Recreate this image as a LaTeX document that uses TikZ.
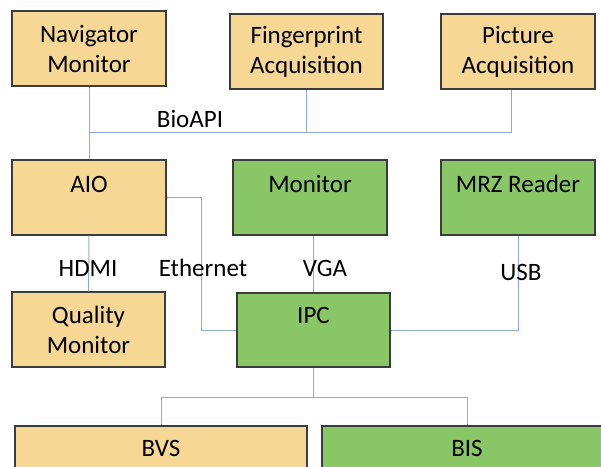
\documentclass[tikz,border=0pt]{standalone}
\usepackage{fontspec}
\setmainfont{Carlito}
\definecolor{boxorange}{HTML}{F6D894}
\definecolor{boxgreen}{HTML}{89C665}
\definecolor{boxline}{HTML}{3C3C3C}
\definecolor{wire}{HTML}{8EAADB}
\tikzset{
  unit/.style={draw=boxline, line width=1.2pt, minimum width=154pt, minimum height=75pt,
    inner sep=0pt, align=center, font=\fontsize{25}{30}\selectfont},
  yel/.style={unit, fill=boxorange},
  grn/.style={unit, fill=boxgreen},
  % single-line caption sitting in the upper part of the box
  toptext/.style={text height=17pt, text depth=#1},
  link/.style={draw=wire, line width=1pt},
  tag/.style={inner sep=0pt, font=\fontsize{25}{30}\selectfont},
}
\begin{document}
\begin{tikzpicture}[x=1pt, y=-1pt]
\useasboundingbox (0,0) rectangle (601,466);
\clip (0,0) rectangle (601,466);

% top row
\node[yel] (nav) at (89,48.5) {Navigator\\Monitor};
\node[yel, minimum width=153pt] (fp) at (306.5,51.5) {Fingerprint\\Acquisition};
\node[yel] (pic) at (518,51.5) {Picture\\Acquisition};

% middle row
\node[yel, toptext=28pt] (aio) at (89,197.5) {AIO};
\node[grn, toptext=28pt] (mon) at (310,197.5) {Monitor};
\node[grn, toptext=28pt] (mrz) at (518,197.5) {MRZ Reader};

% lower row
\node[yel, minimum width=153pt] (qual) at (88.5,329.5) {Quality\\Monitor};
\node[grn, minimum width=153pt, minimum height=74pt, toptext=31pt] (ipc) at (313.5,330) {IPC};

% bottom row (runs past the page edge)
\node[yel, minimum width=292pt, minimum height=44pt] (bvs) at (161,448) {BVS};
\node[grn, minimum width=290pt, minimum height=44pt] (bis) at (467,448) {BIS};

% BioAPI bus
\coordinate (busL) at (89,132);
\draw[link] (nav.south) -- (aio.north);
\draw[link] ([xshift=-7pt]pic.south) |- (busL);
\draw[link] (fp.south) -- (fp.south |- busL);

% device links
\draw[link] (aio.south) -- (qual.north);
\draw[link] (aio.east) -- ++(35,0) |- (ipc.west);
\draw[link] (ipc.north) -- (ipc.north |- mon.south);
\draw[link] (mrz.south) |- (ipc.east);

% IPC fork to BVS / BIS
\coordinate (fork) at (313.5,397);
\draw[link] (ipc.south) -- (fork);
\draw[link] (fork) -| (bvs.north);
\draw[link] (fork) -| (bis.north);

% link labels
\node[tag] (lbio) at (190,119) {BioAPI};
\node[tag] (lhdmi) at (88,268) {HDMI};
\node[tag] (leth) at (203,268) {Ethernet};
\node[tag] (lvga) at (325,268) {VGA};
\node[tag] (lusb) at (521,272) {USB};
\end{tikzpicture}
\end{document}
